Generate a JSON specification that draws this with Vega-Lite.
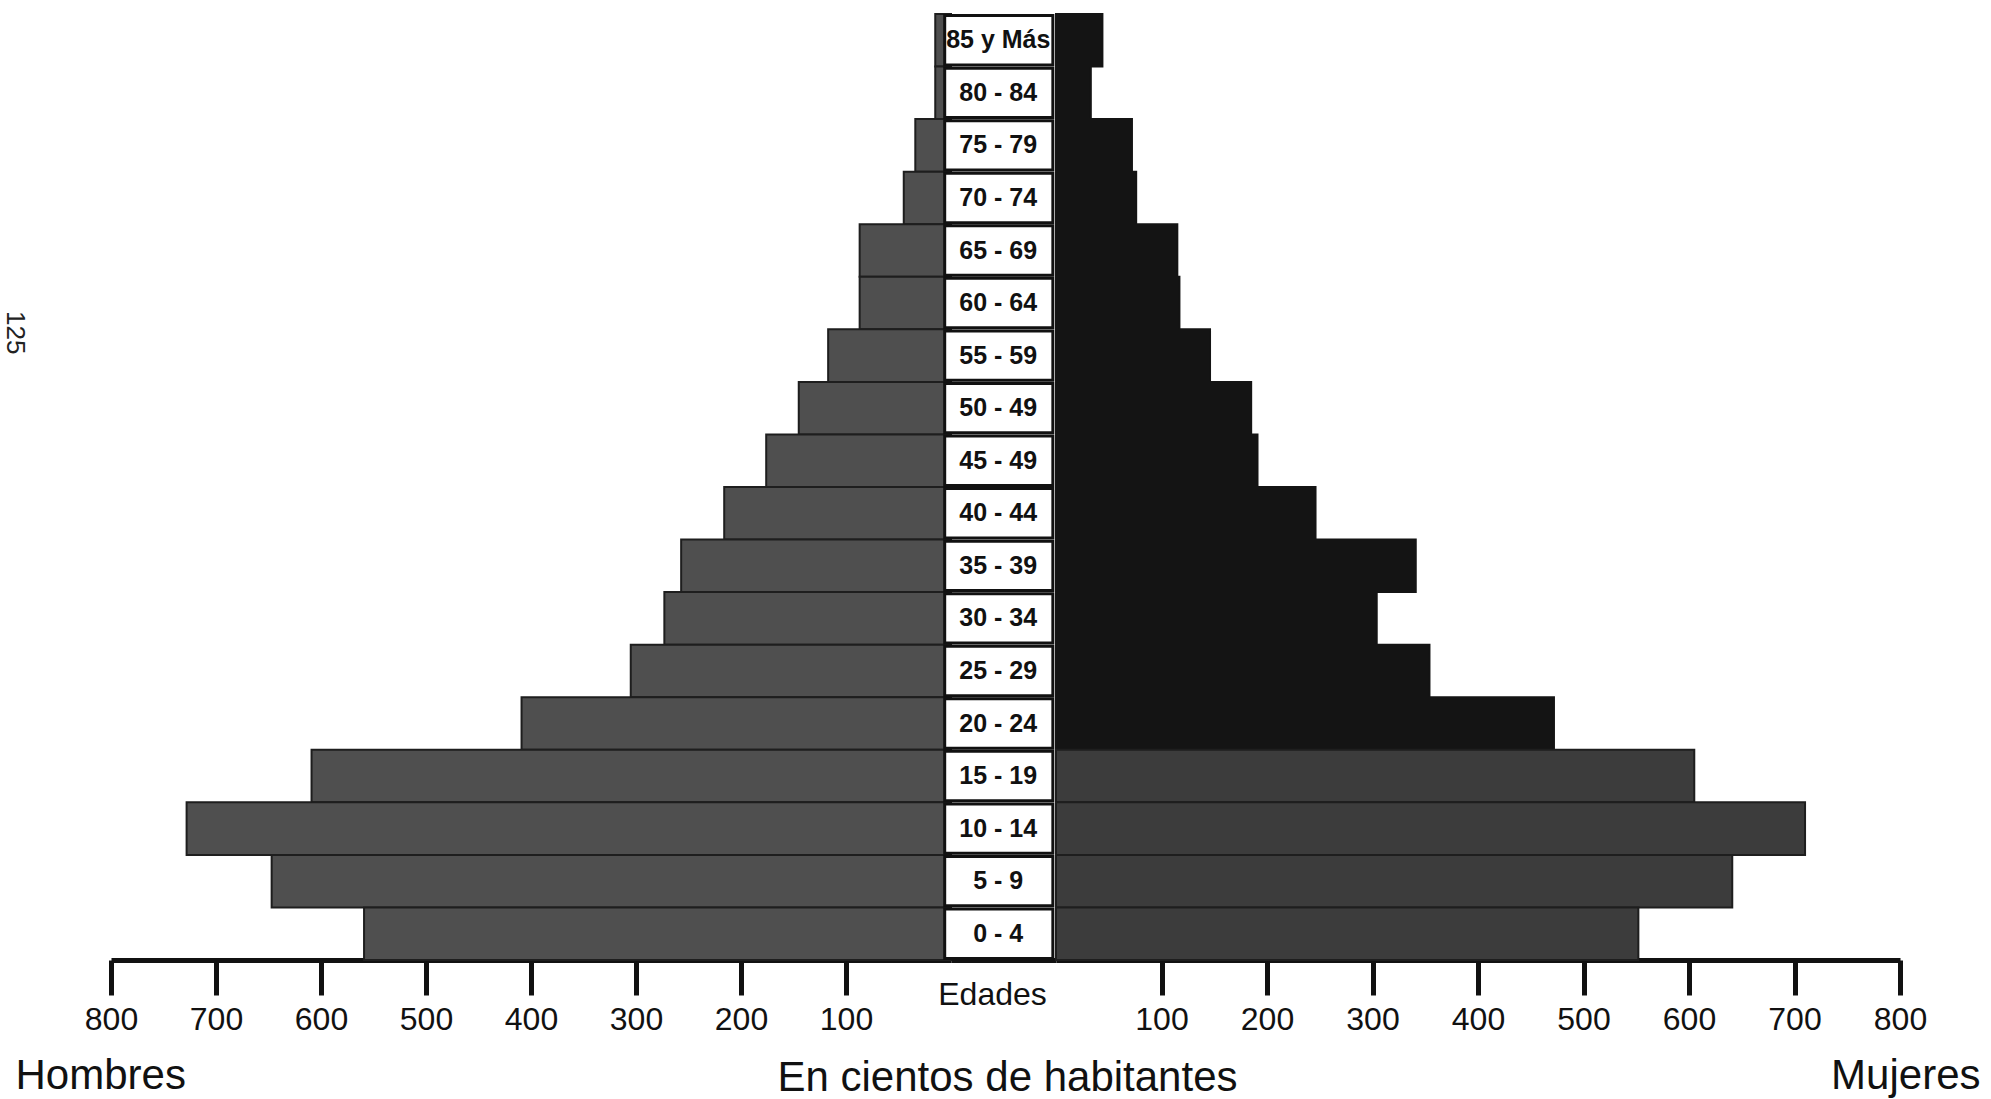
{
  "$schema": "https://vega.github.io/schema/vega-lite/v6.json",
  "background": "white",
  "padding": {"left": 2, "top": 13, "right": 5, "bottom": 0},
  "bounds": "flush",
  "spacing": 0,
  "config": {
    "view": {"stroke": null},
    "font": "Liberation Sans",
    "axis": {
      "grid": false,
      "domainColor": "#111111",
      "domainWidth": 5,
      "tickColor": "#111111",
      "tickWidth": 5,
      "tickSize": 35,
      "labelColor": "#111111",
      "labelFontSize": 32,
      "labelPadding": 9,
      "labelFlush": false,
      "labelOverlap": false,
      "titleColor": "#111111",
      "titleFontSize": 42,
      "titleFontWeight": "normal",
      "titleBaseline": "alphabetic"
    }
  },
  "datasets": {
    "piramide": [
      {"edad": "85 y Más", "hombres": 15, "mujeres": 44},
      {"edad": "80 - 84", "hombres": 15, "mujeres": 33},
      {"edad": "75 - 79", "hombres": 34, "mujeres": 72},
      {"edad": "70 - 74", "hombres": 45, "mujeres": 76},
      {"edad": "65 - 69", "hombres": 87, "mujeres": 115},
      {"edad": "60 - 64", "hombres": 87, "mujeres": 117},
      {"edad": "55 - 59", "hombres": 117, "mujeres": 146},
      {"edad": "50 - 49", "hombres": 145, "mujeres": 185},
      {"edad": "45 - 49", "hombres": 176, "mujeres": 191},
      {"edad": "40 - 44", "hombres": 216, "mujeres": 246},
      {"edad": "35 - 39", "hombres": 257, "mujeres": 341},
      {"edad": "30 - 34", "hombres": 273, "mujeres": 304},
      {"edad": "25 - 29", "hombres": 305, "mujeres": 354},
      {"edad": "20 - 24", "hombres": 409, "mujeres": 472},
      {"edad": "15 - 19", "hombres": 609, "mujeres": 605},
      {"edad": "10 - 14", "hombres": 728, "mujeres": 710},
      {"edad": "5 - 9", "hombres": 647, "mujeres": 641},
      {"edad": "0 - 4", "hombres": 559, "mujeres": 552}
    ]
  },
  "hconcat": [
    {
      "width": 840,
      "height": 946,
      "data": {"name": "piramide"},
      "title": {
        "text": "125",
        "orient": "left",
        "anchor": "end",
        "frame": "group",
        "angle": 90,
        "align": "left",
        "baseline": "top",
        "fontSize": 26,
        "fontWeight": "normal",
        "color": "#222222",
        "offset": -39,
        "dx": 297
      },
      "mark": {"type": "bar", "fill": "#4f4f4f", "stroke": "#1e1e1e", "strokeWidth": 2},
      "encoding": {
        "y": {
          "field": "edad", "type": "nominal",
          "sort": ["85 y Más","80 - 84","75 - 79","70 - 74","65 - 69","60 - 64","55 - 59","50 - 49","45 - 49","40 - 44","35 - 39","30 - 34","25 - 29","20 - 24","15 - 19","10 - 14","5 - 9","0 - 4"],
          "scale": {"paddingInner": 0, "paddingOuter": 0},
          "axis": null
        },
        "x": {
          "field": "hombres", "type": "quantitative",
          "scale": {"domain": [0, 800], "reverse": true, "nice": false},
          "axis": {
            "values": [100, 200, 300, 400, 500, 600, 700, 800],
            "title": "Hombres",
            "titleX": -96,
            "titleY": 128,
            "titleAlign": "left"
          }
        }
      }
    },
    {
      "width": 105,
      "height": 946,
      "data": {"name": "piramide"},
      "title": {
        "text": "En cientos de habitantes",
        "orient": "bottom",
        "anchor": "middle",
        "frame": "group",
        "fontSize": 42,
        "fontWeight": "normal",
        "color": "#111111",
        "baseline": "alphabetic",
        "offset": 81,
        "dx": 4
      },
      "encoding": {
        "y": {
          "field": "edad", "type": "nominal",
          "sort": ["85 y Más","80 - 84","75 - 79","70 - 74","65 - 69","60 - 64","55 - 59","50 - 49","45 - 49","40 - 44","35 - 39","30 - 34","25 - 29","20 - 24","15 - 19","10 - 14","5 - 9","0 - 4"],
          "scale": {"paddingInner": 0, "paddingOuter": 0},
          "axis": null
        }
      },
      "layer": [
        {
          "mark": {"type": "bar", "fill": "white", "stroke": "#111111", "strokeWidth": 3, "height": {"band": 0.94}},
          "encoding": {
            "x": {
              "datum": -0.06, "type": "quantitative",
              "scale": {"domain": [0, 1], "nice": false, "zero": false},
              "axis": {
                "title": "Edades",
                "ticks": false,
                "labels": false,
                "titleFontSize": 32,
                "titleX": 41,
                "titleY": 44,
                "titleAlign": "center"
              }
            },
            "x2": {"datum": 0.97}
          }
        },
        {
          "mark": {"type": "text", "fontSize": 25, "fontWeight": "bold", "color": "#111111"},
          "encoding": {
            "x": {"datum": 0.45, "type": "quantitative"},
            "text": {"field": "edad"}
          }
        }
      ]
    },
    {
      "width": 844,
      "height": 946,
      "data": {"name": "piramide"},
      "mark": {"type": "bar", "strokeWidth": 2},
      "encoding": {
        "y": {
          "field": "edad", "type": "nominal",
          "sort": ["85 y Más","80 - 84","75 - 79","70 - 74","65 - 69","60 - 64","55 - 59","50 - 49","45 - 49","40 - 44","35 - 39","30 - 34","25 - 29","20 - 24","15 - 19","10 - 14","5 - 9","0 - 4"],
          "scale": {"paddingInner": 0, "paddingOuter": 0},
          "axis": null
        },
        "x": {
          "field": "mujeres", "type": "quantitative",
          "scale": {"domain": [0, 800], "nice": false},
          "axis": {
            "values": [100, 200, 300, 400, 500, 600, 700, 800],
            "title": "Mujeres",
            "titleX": 924,
            "titleY": 128,
            "titleAlign": "right"
          }
        },
        "fill": {
          "condition": {"test": "indexof(['0 - 4','5 - 9','10 - 14','15 - 19'], datum.edad) >= 0", "value": "#3c3c3c"},
          "value": "#141414"
        },
        "stroke": {
          "condition": {"test": "indexof(['0 - 4','5 - 9','10 - 14','15 - 19'], datum.edad) >= 0", "value": "#1e1e1e"},
          "value": "#141414"
        }
      }
    }
  ]
}
